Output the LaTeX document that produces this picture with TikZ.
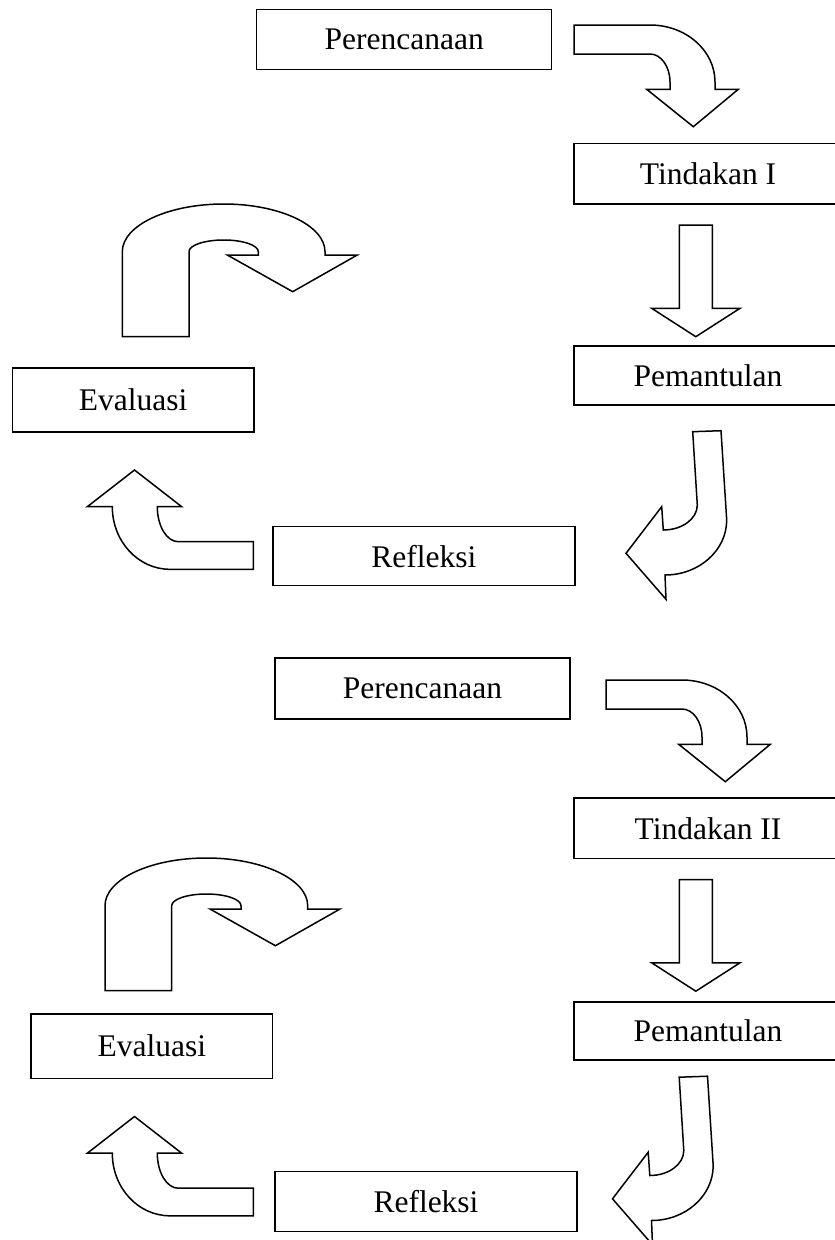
\documentclass[tikz,border=0pt]{standalone}
\usepackage{fontspec}
\setmainfont{Liberation Serif}
\begin{document}
\begin{tikzpicture}[x=1pt,y=-1pt,
  box/.style={draw, line width=1.5pt, inner sep=0pt, font=\fontsize{31.5}{38}\selectfont},
  blockarrow/.style={draw, line width=1.5pt, fill=white}]
\useasboundingbox (0,0) rectangle (835,1240);
\clip (0,0) rectangle (835,1240);

% ---------- boxes ----------
\node[box, minimum width=295pt, minimum height=60pt] (plan1) at (404.2,39.3) {Perencanaan};
\node[box, minimum width=268pt, minimum height=60.7pt] (act1) at (708,173.7) {Tindakan I};
\node[box, minimum width=268pt, minimum height=59pt] (obs1) at (708,375.5) {Pemantulan};
\node[box, minimum width=302pt, minimum height=59pt] (ref1) at (423.9,556.2) {Refleksi};
\node[box, minimum width=241.7pt, minimum height=64pt] (eva1) at (133.2,400) {Evaluasi};

\node[box, minimum width=295pt, minimum height=61pt] (plan2) at (422.5,688.5) {Perencanaan};
\node[box, minimum width=268pt, minimum height=60.7pt] (act2) at (708,828.3) {Tindakan II};
\node[box, minimum width=268pt, minimum height=58.3pt] (obs2) at (708,1030.9) {Pemantulan};
\node[box, minimum width=302pt, minimum height=59.8pt] (ref2) at (426,1201.6) {Refleksi};
\node[box, minimum width=241.6pt, minimum height=64.3pt] (eva2) at (151.8,1046.2) {Evaluasi};

% ---------- curved arrow: Perencanaan -> Tindakan ----------
\foreach \dx/\dy in {0/0, 32/655}{
\begin{scope}[shift={(\dx,\dy)}]
\draw[blockarrow] (574,25) -- (650,25) .. controls (685.9,25) and (715,50.5) .. (715,82)
  -- (715,89.3) -- (738.3,89.3) -- (693.3,126.7) -- (646.7,89.3) -- (670,89.3) -- (670,82)
  .. controls (670,66.5) and (661,54) .. (650,54) -- (574,54) -- cycle;
\end{scope}}

% ---------- straight down arrow: Tindakan -> Pemantulan ----------
\foreach \dx/\dy in {0/0, 0/654.5}{
\begin{scope}[shift={(\dx,\dy)}]
\draw[blockarrow] (679.3,225) -- (712.3,225) -- (712.3,308.3) -- (740,308.3)
  -- (695.8,336.7) -- (651.7,308.3) -- (679.3,308.3) -- cycle;
\end{scope}}

% ---------- J arrow: Pemantulan -> Refleksi ----------
\foreach \dx/\dy in {0/0, -13.5/645.5}{
\begin{scope}[shift={(\dx,\dy)}]
\draw[blockarrow] (692.7,431.7) -- (721,430.7) -- (726.7,520)
  .. controls (726.7,550.4) and (699,575) .. (665,575)
  -- (666,599.3) -- (626,553.3) -- (661.7,506.7) -- (663.3,530)
  .. controls (682.1,530) and (697.3,518.8) .. (697.3,505) -- cycle;
\end{scope}}

% ---------- left curved arrow: Refleksi -> Evaluasi ----------
\foreach \dx/\dy in {0/0, 0/646.5}{
\begin{scope}[shift={(\dx,\dy)}]
\draw[blockarrow] (134.5,470) -- (181.7,506.7) -- (157.3,506.7)
  .. controls (157.3,526) and (166.7,541.7) .. (178.3,541.7)
  -- (253.3,541.7) -- (253.3,569.3) -- (170,569.3)
  .. controls (138.1,569.3) and (112.3,541.3) .. (112.3,506.7)
  -- (87.3,506.7) -- cycle;
\end{scope}}

% ---------- U-turn arrow: Evaluasi -> next cycle ----------
\foreach \dx/\dy in {0/0, -17.3/654}{
\begin{scope}[shift={(\dx,\dy)}]
\draw[blockarrow] (122.3,336.7) -- (122.3,251.7)
  .. controls (122.3,225.4) and (167.8,204) .. (223.7,204)
  .. controls (279.6,204) and (325,225.4) .. (325,251.7)
  -- (325,255) -- (357.3,255) -- (292.7,291.7) -- (227.3,255) -- (258.3,255) -- (258.3,251.7)
  .. controls (258.3,245.2) and (242.9,240) .. (223.7,240)
  .. controls (204.5,240) and (189,245.2) .. (189,251.7)
  -- (189,336.7) -- cycle;
\end{scope}}
\end{tikzpicture}
\end{document}
